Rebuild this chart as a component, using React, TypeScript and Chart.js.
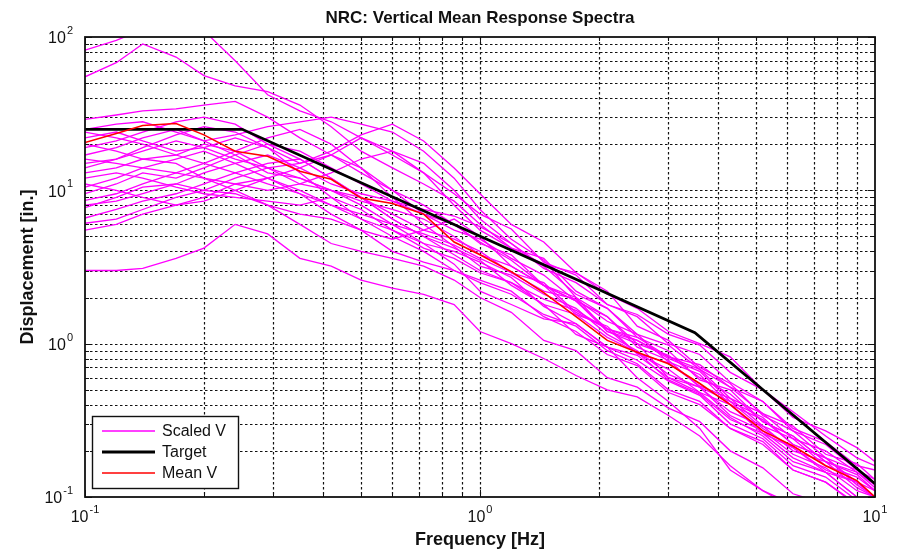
import React, { useEffect, useRef } from 'react';
import { Chart, registerables } from 'chart.js';

Chart.register(...registerables);

// ---------------- DATA ----------------
const frequencies = [0.1, 0.12, 0.14, 0.17, 0.2, 0.24, 0.29, 0.35, 0.42, 0.5, 0.6, 0.72, 0.86, 1.0, 1.2, 1.45, 1.75, 2.1, 2.5, 3.0, 3.6, 4.3, 5.2, 6.2, 7.5, 9.0, 10];

const targetFreq = [0.1, 0.25, 3.5, 10];
const targetDisp = [25, 25, 1.18, 0.122];

const meanV = [20.5, 23.5, 26.5, 27.3, 23, 18, 16.7, 13.3, 11.8, 8.9, 8.2, 7.0, 4.6, 3.8, 2.95, 2.15, 1.5, 1.05, 0.88, 0.74, 0.55, 0.4, 0.27, 0.215, 0.16, 0.128, 0.1];

const scaledV01 = [82, 95, 112, 120, 110, 70, 42, 33, 28, 22, 17, 13, 9.5, 7.0, 5.6, 3.4, 2.8, 1.8, 1.5, 1.0, 0.85, 0.56, 0.42, 0.27, 0.22, 0.15, 0.13];
const scaledV02 = [55, 68, 90, 74, 56, 48, 44, 36, 26, 18, 14, 11, 8.5, 6.0, 4.2, 3.6, 2.2, 1.7, 1.1, 0.9, 0.58, 0.5, 0.31, 0.25, 0.17, 0.14, 0.11];
const scaledV03 = [29, 31, 33, 34, 36, 38, 30, 22, 17, 13, 10, 8.0, 6.0, 4.5, 3.8, 2.4, 1.9, 1.2, 1.05, 0.8, 0.66, 0.42, 0.33, 0.22, 0.18, 0.12, 0.1];
const scaledV04 = [25, 27, 28, 24, 21, 23, 26, 28, 30, 27, 24, 18, 12, 7.5, 4.8, 3.5, 2.0, 1.5, 0.95, 0.78, 0.52, 0.42, 0.28, 0.21, 0.15, 0.125, 0.1];
const scaledV05 = [22, 24, 21, 18, 19, 22, 19, 15, 18, 23, 27, 21, 14, 9.5, 6.0, 4.6, 2.9, 2.2, 1.3, 1.05, 0.7, 0.55, 0.34, 0.27, 0.18, 0.15, 0.12];
const scaledV06 = [20, 18, 16, 17, 20, 18, 14, 11, 10, 8.5, 7.5, 6.5, 5.0, 3.8, 3.2, 2.4, 2.0, 1.2, 1.0, 0.6, 0.48, 0.33, 0.25, 0.17, 0.145, 0.1, 0.085];
const scaledV07 = [17, 19, 22, 25, 21, 17, 13, 12, 10, 9.0, 6.5, 5.0, 4.2, 3.5, 2.4, 1.8, 1.15, 0.95, 0.6, 0.42, 0.28, 0.15, 0.11, 0.085, 0.075, 0.06, 0.055];
const scaledV08 = [15, 16, 18, 21, 19, 16, 14, 15, 17, 14, 10, 7.0, 5.5, 4.8, 3.6, 2.8, 1.9, 1.5, 1.0, 0.84, 0.6, 0.47, 0.31, 0.25, 0.17, 0.145, 0.115];
const scaledV09 = [13, 14, 16, 15, 12, 11, 10, 11, 13, 16, 18, 15, 10, 6.5, 4.5, 3.2, 2.1, 1.7, 1.15, 0.98, 0.68, 0.52, 0.35, 0.29, 0.19, 0.165, 0.13];
const scaledV10 = [12, 13, 12, 10.5, 9.5, 9.0, 8.5, 8.0, 9.0, 7.5, 5.5, 4.2, 3.6, 2.9, 2.5, 1.8, 1.55, 1.1, 0.88, 0.58, 0.47, 0.32, 0.26, 0.18, 0.145, 0.1, 0.09];
const scaledV11 = [10.5, 12, 14, 16, 18, 15, 12, 9.5, 7.0, 5.5, 4.8, 5.5, 6.5, 5.0, 3.2, 2.4, 1.55, 1.3, 0.86, 0.68, 0.48, 0.4, 0.26, 0.21, 0.145, 0.125, 0.1];
const scaledV12 = [9.5, 11, 13, 12, 14, 17, 20, 18, 14, 11, 8.5, 7.0, 6.0, 4.6, 3.5, 2.4, 1.9, 1.25, 1.05, 0.82, 0.68, 0.44, 0.35, 0.24, 0.2, 0.145, 0.12];
const scaledV13 = [8.6, 9.5, 11, 13, 12, 10, 8.0, 7.0, 6.5, 5.5, 4.0, 3.4, 3.0, 2.6, 2.2, 1.5, 1.2, 0.85, 0.72, 0.48, 0.4, 0.28, 0.23, 0.15, 0.125, 0.088, 0.08];
const scaledV14 = [7.7, 9.0, 10.5, 11, 10, 12, 14, 12, 10, 8.0, 6.0, 4.5, 3.3, 2.2, 1.8, 1.45, 1.35, 0.95, 0.84, 0.6, 0.52, 0.36, 0.29, 0.2, 0.17, 0.115, 0.1];
const scaledV15 = [6.6, 7.5, 8.5, 9.5, 11, 13, 15, 16, 12, 9.0, 7.0, 5.5, 4.8, 4.0, 2.9, 2.5, 1.6, 1.25, 0.86, 0.75, 0.53, 0.44, 0.29, 0.24, 0.16, 0.135, 0.11];
const scaledV16 = [6.1, 6.5, 7.5, 9.0, 10, 9.5, 8.0, 6.0, 4.5, 4.0, 3.6, 3.2, 2.6, 2.0, 1.6, 1.05, 0.9, 0.6, 0.52, 0.38, 0.31, 0.2, 0.155, 0.105, 0.09, 0.063, 0.055];
const scaledV17 = [5.5, 6.0, 7.0, 8.0, 9.0, 11, 12, 10, 8.0, 6.5, 5.5, 4.5, 4.0, 3.4, 2.7, 1.75, 1.35, 0.95, 0.78, 0.57, 0.46, 0.3, 0.24, 0.16, 0.135, 0.095, 0.09];
const scaledV18 = [3.0, 3.0, 3.1, 3.6, 4.2, 6.0, 5.2, 3.6, 3.2, 2.6, 2.3, 2.1, 1.8, 1.2, 1.0, 0.8, 0.62, 0.5, 0.45, 0.34, 0.25, 0.16, 0.11, 0.09, 0.07, 0.055, 0.05];
const scaledV19 = [19, 21, 24, 28, 30, 27, 20, 16, 12, 9.0, 6.5, 5.0, 3.8, 3.0, 2.5, 1.95, 1.65, 1.25, 1.1, 0.82, 0.73, 0.52, 0.42, 0.28, 0.23, 0.16, 0.15];
const scaledV20 = [16, 15, 14, 13, 15, 18, 22, 25, 20, 14, 9.0, 6.0, 4.3, 3.2, 2.8, 2.1, 1.7, 1.15, 0.9, 0.63, 0.52, 0.34, 0.27, 0.19, 0.155, 0.11, 0.1];
const scaledV21 = [11, 10, 9.0, 8.0, 8.5, 10, 12, 14, 17, 22, 18, 13, 8.0, 5.5, 4.2, 3.3, 2.9, 2.1, 1.7, 1.2, 1.0, 0.82, 0.5, 0.36, 0.25, 0.18, 0.16];
const scaledV22 = [14, 16, 19, 23, 26, 24, 19, 13, 9.0, 6.5, 5.0, 4.0, 3.0, 2.5, 2.1, 1.55, 1.3, 0.9, 0.74, 0.5, 0.42, 0.28, 0.22, 0.15, 0.125, 0.09, 0.08];
const scaledV23 = [8.0, 8.5, 9.5, 11, 13, 15, 17, 14, 11, 9.5, 8.5, 7.5, 6.8, 5.8, 4.5, 3.1, 2.5, 1.8, 1.55, 1.15, 0.98, 0.65, 0.5, 0.33, 0.27, 0.21, 0.17];
const scaledV24 = [24, 22, 20, 17, 15, 13, 11, 9.5, 8.0, 7.0, 6.0, 5.2, 4.4, 3.6, 2.9, 2.2, 1.95, 1.4, 1.15, 0.76, 0.63, 0.4, 0.32, 0.22, 0.18, 0.125, 0.11];

const scaledSeries = [
  scaledV01, scaledV02, scaledV03, scaledV04, scaledV05, scaledV06, scaledV07, scaledV08,
  scaledV09, scaledV10, scaledV11, scaledV12, scaledV13, scaledV14, scaledV15, scaledV16,
  scaledV17, scaledV18, scaledV19, scaledV20, scaledV21, scaledV22, scaledV23, scaledV24,
];

const xRange = [0.1, 10];
const yRange = [0.1, 100];
const xMajorTicks = [0.1, 1, 10];
const xTickExponents = ['-1', '0', '1'];
const yMajorTicks = [0.1, 1, 10, 100];
const yTickExponents = ['-1', '0', '1', '2'];

const chartTitle = 'NRC: Vertical Mean Response Spectra';
const xTitle = 'Frequency [Hz]';
const yTitle = 'Displacement [in.]';
const legendLabels = ['Scaled V', 'Target', 'Mean V'];

// ---------------- STYLE ----------------
const MAGENTA = '#ff00ff';
const FONT = '"Liberation Sans", Arial, Helvetica, sans-serif';

function decadeValues(min: number, max: number) {
  const out: { v: number; major: boolean }[] = [];
  const e0 = Math.round(Math.log10(min));
  const e1 = Math.round(Math.log10(max));
  for (let e = e0; e < e1; e++) {
    for (let m = 1; m <= 9; m++) out.push({ v: m * Math.pow(10, e), major: m === 1 });
  }
  out.push({ v: Math.pow(10, e1), major: true });
  return out;
}

function drawPow(ctx: CanvasRenderingContext2D, exp: string, x: number, y: number, align: 'right' | 'center') {
  const base = `16px ${FONT}`;
  const sup = `11px ${FONT}`;
  ctx.font = base;
  const w1 = ctx.measureText('10').width;
  ctx.font = sup;
  const w2 = ctx.measureText(exp).width;
  const total = w1 + 1 + w2;
  const left = align === 'right' ? x - total : x - total / 2;
  ctx.textAlign = 'left';
  ctx.textBaseline = 'middle';
  ctx.fillStyle = '#111';
  ctx.font = base;
  ctx.fillText('10', left, y);
  ctx.font = sup;
  ctx.fillText(exp, left + w1 + 1, y - 8);
}

const matlabPlugin = {
  id: 'matlabAxes',
  beforeDatasetsDraw(chart: any) {
    const { ctx, chartArea: a, scales } = chart;
    const xs = scales.x;
    const ys = scales.y;
    ctx.save();
    ctx.strokeStyle = '#111';
    ctx.lineWidth = 1.2;
    ctx.setLineDash([2.5, 2.5]);
    for (const t of decadeValues(xRange[0], xRange[1])) {
      const px = Math.round(xs.getPixelForValue(t.v)) + 0.5;
      if (px <= a.left + 1 || px >= a.right - 1) continue;
      ctx.beginPath();
      ctx.moveTo(px, a.top);
      ctx.lineTo(px, a.bottom);
      ctx.stroke();
    }
    for (const t of decadeValues(yRange[0], yRange[1])) {
      const py = Math.round(ys.getPixelForValue(t.v)) + 0.5;
      if (py <= a.top + 1 || py >= a.bottom - 1) continue;
      ctx.beginPath();
      ctx.moveTo(a.left, py);
      ctx.lineTo(a.right, py);
      ctx.stroke();
    }
    ctx.restore();
  },
  afterDraw(chart: any) {
    const { ctx, chartArea: a, scales } = chart;
    const xs = scales.x;
    const ys = scales.y;
    ctx.save();
    ctx.setLineDash([]);
    // ticks (inward, all four sides)
    ctx.strokeStyle = '#111';
    ctx.lineWidth = 1;
    for (const t of decadeValues(xRange[0], xRange[1])) {
      const px = Math.round(xs.getPixelForValue(t.v)) + 0.5;
      const len = t.major ? 7 : 4;
      ctx.beginPath();
      ctx.moveTo(px, a.bottom); ctx.lineTo(px, a.bottom - len);
      ctx.moveTo(px, a.top); ctx.lineTo(px, a.top + len);
      ctx.stroke();
    }
    for (const t of decadeValues(yRange[0], yRange[1])) {
      const py = Math.round(ys.getPixelForValue(t.v)) + 0.5;
      const len = t.major ? 7 : 4;
      ctx.beginPath();
      ctx.moveTo(a.left, py); ctx.lineTo(a.left + len, py);
      ctx.moveTo(a.right, py); ctx.lineTo(a.right - len, py);
      ctx.stroke();
    }
    // frame
    ctx.lineWidth = 1.8;
    ctx.strokeStyle = '#111';
    ctx.strokeRect(a.left, a.top, a.right - a.left, a.bottom - a.top);

    // tick labels
    xMajorTicks.forEach((v, i) => {
      drawPow(ctx, xTickExponents[i], xs.getPixelForValue(v), a.bottom + 21, 'center');
    });
    yMajorTicks.forEach((v, i) => {
      drawPow(ctx, yTickExponents[i], a.left - 12, ys.getPixelForValue(v) + 2, 'right');
    });

    // titles
    ctx.fillStyle = '#111';
    ctx.textAlign = 'center';
    ctx.textBaseline = 'middle';
    ctx.font = `bold 17px ${FONT}`;
    ctx.fillText(chartTitle, (a.left + a.right) / 2, 18);
    ctx.font = `bold 18px ${FONT}`;
    ctx.fillText(xTitle, (a.left + a.right) / 2, a.bottom + 43);
    ctx.save();
    ctx.translate(28, (a.top + a.bottom) / 2);
    ctx.rotate(-Math.PI / 2);
    ctx.fillText(yTitle, 0, 0);
    ctx.restore();

    // legend
    const lx = a.left + 7;
    const lb = a.bottom - 9;
    const lw = 146;
    const lh = 72;
    const ly = lb - lh;
    ctx.fillStyle = '#fff';
    ctx.fillRect(lx, ly, lw, lh);
    ctx.lineWidth = 1.4;
    ctx.strokeStyle = '#111';
    ctx.strokeRect(lx + 0.5, ly + 0.5, lw, lh);
    const items = [
      { c: MAGENTA, w: 1.4 },
      { c: '#000', w: 3 },
      { c: '#ff0000', w: 1.5 },
    ];
    items.forEach((it, i) => {
      const yy = ly + 15 + i * 21;
      ctx.strokeStyle = it.c;
      ctx.lineWidth = it.w;
      ctx.beginPath();
      ctx.moveTo(lx + 10, yy);
      ctx.lineTo(lx + 63, yy);
      ctx.stroke();
      ctx.fillStyle = '#111';
      ctx.font = `16px ${FONT}`;
      ctx.textAlign = 'left';
      ctx.textBaseline = 'middle';
      ctx.fillText(legendLabels[i], lx + 70, yy + 1);
    });
    ctx.restore();
  },
};

export default function App() {
  const canvasRef = useRef<HTMLCanvasElement | null>(null);

  useEffect(() => {
    const canvas = canvasRef.current;
    if (!canvas) return;
    const toPoints = (xsArr: number[], ysArr: number[]) => xsArr.map((x, i) => ({ x, y: ysArr[i] }));

    const datasets: any[] = [];
    datasets.push({
      label: legendLabels[2],
      data: toPoints(frequencies, meanV),
      borderColor: '#ff0000',
      borderWidth: 1.6,
      order: 0,
    });
    datasets.push({
      label: legendLabels[1],
      data: toPoints(targetFreq, targetDisp),
      borderColor: '#000000',
      borderWidth: 2.8,
      order: 1,
    });
    scaledSeries.forEach((s, i) => {
      datasets.push({
        label: `${legendLabels[0]} ${i + 1}`,
        data: toPoints(frequencies, s),
        borderColor: MAGENTA,
        borderWidth: 1.3,
        order: 2,
      });
    });

    const chart = new Chart(canvas, {
      type: 'line',
      data: { datasets },
      options: {
        animation: false,
        responsive: false,
        devicePixelRatio: 1,
        layout: { padding: { left: 85, top: 37, right: 24, bottom: 56 } },
        elements: {
          point: { radius: 0, hoverRadius: 0 },
          line: { tension: 0, fill: false },
        },
        plugins: {
          legend: { display: false },
          tooltip: { enabled: false },
          title: { display: false },
        },
        scales: {
          x: {
            type: 'logarithmic',
            min: xRange[0],
            max: xRange[1],
            grid: { display: false, drawTicks: false },
            border: { display: false },
            ticks: { display: false },
            afterFit: (s: any) => { s.height = 0; },
          },
          y: {
            type: 'logarithmic',
            min: yRange[0],
            max: yRange[1],
            grid: { display: false, drawTicks: false },
            border: { display: false },
            ticks: { display: false },
            afterFit: (s: any) => { s.width = 0; },
          },
        },
      },
      plugins: [matlabPlugin],
    });
    return () => chart.destroy();
  }, []);

  return (
    <div style={{ position: 'absolute', left: 0, top: 0, width: 899, height: 553, background: '#fff' }}>
      <canvas ref={canvasRef} width={899} height={553} style={{ display: 'block' }} />
    </div>
  );
}
